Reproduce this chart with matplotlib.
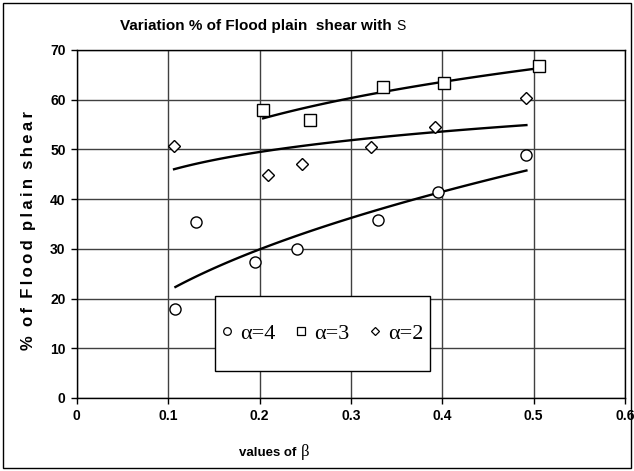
import numpy as np
import matplotlib
matplotlib.use("Agg")
from matplotlib import pyplot as plt
from matplotlib.patches import Rectangle

# values (beta, % of flood plain shear)
beta_a4 = [0.108, 0.131, 0.195, 0.241, 0.330, 0.395, 0.492]
shear_a4 = [17.9, 35.4, 27.4, 29.9, 35.7, 41.5, 48.9]
beta_a3 = [0.204, 0.255, 0.335, 0.402, 0.506]
shear_a3 = [57.9, 55.9, 62.5, 63.4, 66.7]
beta_a2 = [0.1065, 0.2096, 0.247, 0.322, 0.392, 0.492]
shear_a2 = [50.7, 44.9, 47.1, 50.4, 54.6, 60.3]

labels = ["\u03b1=4", "\u03b1=3", "\u03b1=2"]
markers = ["o", "s", "D"]

xticks = [0, 0.1, 0.2, 0.3, 0.4, 0.5, 0.6]
yticks = [0, 10, 20, 30, 40, 50, 60, 70]

sans = ["Liberation Sans", "DejaVu Sans"]
serif = ["Liberation Serif", "DejaVu Serif"]

fig = plt.figure(figsize=(6.34, 4.71), dpi=100)
ax = fig.add_axes([0.121, 0.155, 0.865, 0.739])


def power_trend(x, y):
    # excel style power trendline: fit ln y = p ln x + c
    p, c = np.polyfit(np.log(x), np.log(y), 1)
    xs = np.linspace(min(x), max(x), 100)
    return xs, np.exp(c) * xs ** p


for x, y, m in zip([beta_a4, beta_a3, beta_a2], [shear_a4, shear_a3, shear_a2], markers):
    ms = 6.5 if m == "D" else 8
    ax.plot(x, y, linestyle="none", marker=m, ms=ms, mfc="white", mec="black", mew=1.0, zorder=3)
    xs, ys = power_trend(x, y)
    ax.plot(xs, ys, color="black", lw=1.7, zorder=2)

ax.set_xlim(0, 0.6)
ax.set_ylim(0, 70)
ax.set_xticks(xticks)
ax.set_yticks(yticks)
ax.set_xticklabels([f"{t:g}" for t in xticks], fontfamily=sans, fontweight="bold", fontsize=10)
ax.set_yticklabels([f"{t:g}" for t in yticks], fontfamily=sans, fontweight="bold", fontsize=10)
ax.tick_params(direction="out", length=4, width=1, color="black", pad=4)
ax.grid(True, color="#404040", lw=1.0)
ax.set_axisbelow(True)
for s in ax.spines.values():
    s.set_color("black")
    s.set_linewidth(1.0)

# x label: "values of" bold sans + beta in serif
fig.text(300 / 634, 1 - 456 / 471, "values of ", fontfamily=sans, fontweight="bold",
         fontsize=9.5, ha="right", va="baseline")
fig.text(301 / 634, 1 - 456 / 471, "\u03b2", fontfamily=serif, fontsize=12, ha="left", va="baseline")

# y label, letter spaced like the original
ylab = "  ".join("\u2009".join(w) for w in "% of Flood plain shear".split())
fig.text(28 / 634, 1 - 231 / 471, ylab, fontfamily=sans, fontweight="bold", fontsize=12,
         rotation=90, ha="center", va="center")

title = fig.text(120 / 634, 1 - 30 / 471, "Variation % of Flood plain  shear with ", fontfamily=sans,
                 fontweight="bold", fontsize=11, ha="left", va="baseline")
ax.annotate("S", xy=(1, 0), xycoords=title, xytext=(0, 2), textcoords="offset points",
            fontfamily=sans, fontsize=10, va="baseline", ha="left")

# legend box drawn in data units, entries centred in it
ax.add_patch(Rectangle((0.151, 5.4), 0.236, 15.1, facecolor="white", edgecolor="black", lw=1.0, zorder=4))
leg = ax.legend(handles=[plt.Line2D([], [], linestyle="none", marker=m, ms=(4.5 if m == "D" else 5.5),
                                    mfc="white", mec="black", mew=0.9) for m in markers],
                labels=labels, loc="center", bbox_to_anchor=(0.269, 12.95), bbox_transform=ax.transData,
                ncol=3, frameon=False, handlelength=0.5, handletextpad=0.35, columnspacing=0.9,
                prop={"family": serif, "size": 16})
leg.set_zorder(5)

fig.patches.append(Rectangle((0.004, 0.006), 0.992, 0.988, transform=fig.transFigure,
                             fill=False, edgecolor="black", lw=1.0))

fig.savefig("out.png", dpi=100)
